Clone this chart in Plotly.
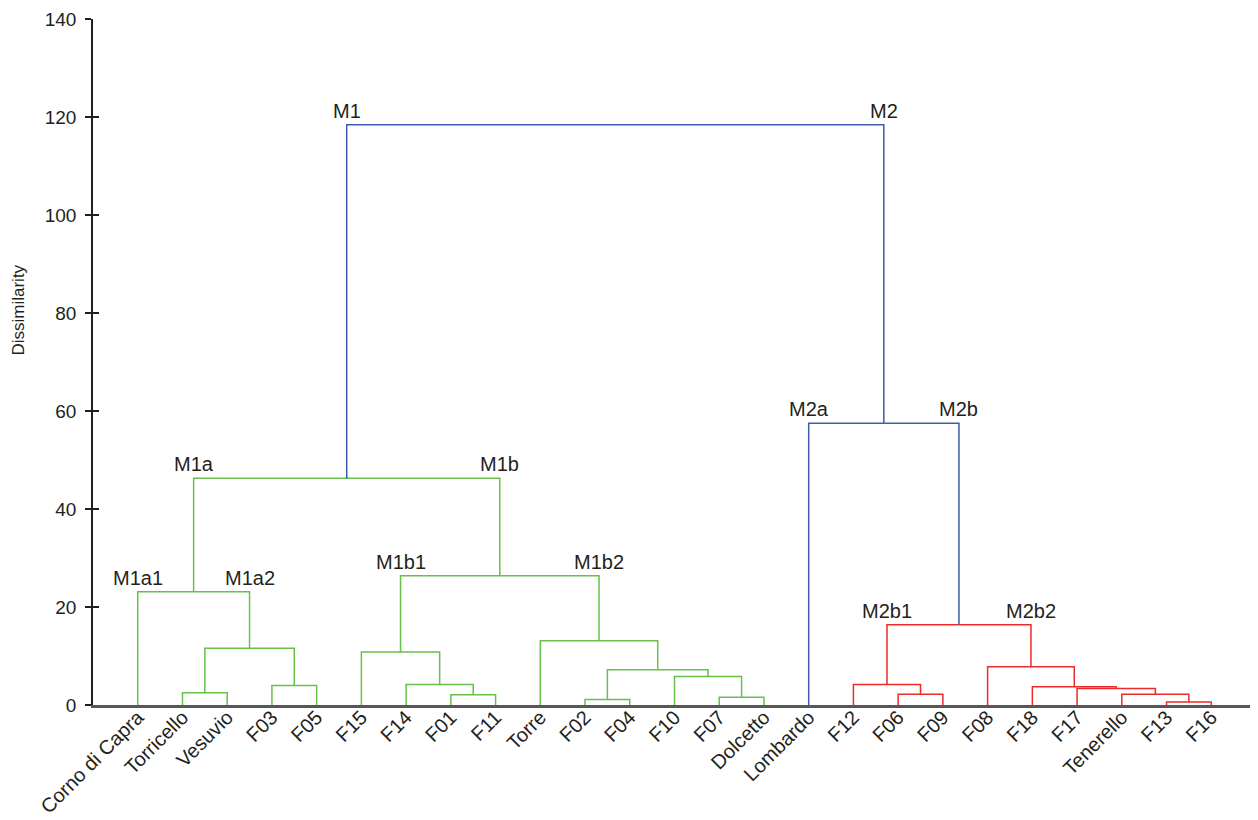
import plotly.graph_objects as go

# ---- data -------------------------------------------------------------
leaves = ["Corno di Capra", "Torricello", "Vesuvio", "F03", "F05", "F15", "F14",
          "F01", "F11", "Torre", "F02", "F04", "F10", "F07", "Dolcetto",
          "Lombardo", "F12", "F06", "F09", "F08", "F18", "F17", "Tenerello",
          "F13", "F16"]

# merges (agglomeration order): name, left child, right child, height, group
merge_names = ["TV", "F03F05", "M1a2", "M1a", "F01F11", "F14c", "M1b1",
               "F02F04", "F07D", "F10c", "F02c", "M1b2", "M1b", "M1",
               "F06F09", "M2b1", "F13F16", "Tc", "F17c", "F18c", "M2b2",
               "M2b", "M2", "ROOT"]
merge_left = ["Torricello", "F03", "TV", "Corno di Capra", "F01", "F14", "F15",
              "F02", "F07", "F10", "F02F04", "Torre", "M1b1", "M1a",
              "F06", "F12", "F13", "Tenerello", "F17", "F18", "F08",
              "M2b1", "Lombardo", "M1"]
merge_right = ["Vesuvio", "F05", "F03F05", "M1a2", "F11", "F01F11", "F14c",
               "F04", "Dolcetto", "F07D", "F10c", "F02c", "M1b2", "M1b",
               "F09", "F06F09", "F16", "F13F16", "Tc", "F17c", "F18c",
               "M2b2", "M2b", "M2"]
merge_height = [2.5, 4.0, 11.6, 23.1, 2.1, 4.2, 10.8,
                1.1, 1.6, 5.8, 7.2, 13.1, 26.4, 46.3,
                2.2, 4.2, 0.6, 2.2, 3.35, 3.7, 7.8,
                16.4, 57.5, 118.4]
merge_group = ["M1"] * 14 + ["M2b"] * 8 + ["top", "top"]

# cluster labels: shown above the child node, at its parent's height
label_nodes = ["M1", "M2", "M1a", "M1b", "Corno di Capra", "M1a2", "M1b1",
               "M1b2", "Lombardo", "M2b", "M2b1", "M2b2"]
label_texts = ["M1", "M2", "M1a", "M1b", "M1a1", "M1a2", "M1b1", "M1b2",
               "M2a", "M2b", "M2b1", "M2b2"]

y_ticks = [0, 20, 40, 60, 80, 100, 120, 140]

# ---- styles -----------------------------------------------------------
group_colors = {"M1": "#66c04a", "M2b": "#ee2a2a", "top": "#3d5cad"}
FONT = "Liberation Sans, Arial, sans-serif"
TXT = "#231f20"

# ---- layout of the tree ----------------------------------------------
pos = {name: i + 1 for i, name in enumerate(leaves)}
hgt = {name: 0.0 for name in leaves}
parent = {}
segs = {g: ([], []) for g in group_colors}
for name, l, r, h, g in zip(merge_names, merge_left, merge_right,
                            merge_height, merge_group):
    pos[name] = (pos[l] + pos[r]) / 2
    hgt[name] = h
    parent[l] = name
    parent[r] = name
    xs, ys = segs[g]
    xs += [pos[l], pos[l], pos[r], pos[r], None]
    ys += [hgt[l], h, h, hgt[r], None]

fig = go.Figure()
for g, (xs, ys) in segs.items():
    fig.add_trace(go.Scatter(x=xs, y=ys, mode="lines",
                             line=dict(color=group_colors[g], width=1.5),
                             hoverinfo="skip", showlegend=False,
                             yaxis="y2" if g == "top" else "y"))

for node, txt in zip(label_nodes, label_texts):
    fig.add_annotation(x=pos[node], y=hgt[parent[node]], text=txt,
                       showarrow=False, xanchor="center", yanchor="bottom",
                       yshift=1, font=dict(family=FONT, size=20, color=TXT))

fig.add_annotation(xref="paper", yref="paper", x=0, y=0.575, xshift=-74,
                   text="Dissimilarity", textangle=-90, showarrow=False,
                   xanchor="center", yanchor="middle",
                   font=dict(family=FONT, size=17, color=TXT))

# page body has an 8px margin: paper spans 8..1258 x 8..820
fig.update_layout(
    width=1250, height=812,
    margin=dict(l=85, r=2, t=11, b=115, autoexpand=False),
    plot_bgcolor="white", paper_bgcolor="white",
    font=dict(family=FONT, color=TXT),
    xaxis=dict(range=[0, 26], tickvals=list(range(1, len(leaves) + 1)),
               ticktext=leaves, tickangle=-45, ticks="", automargin=False,
               tickfont=dict(size=20, color=TXT), ticklabelstandoff=-10,
               showline=True, linecolor="#575757", linewidth=2.5,
               showgrid=False, zeroline=False),
    yaxis=dict(range=[0, 140], tickvals=y_ticks, ticks="outside", ticklen=6,
               tickwidth=1.5, tickcolor="#231f20", automargin=False,
               tickfont=dict(size=19, color=TXT), ticklabelstandoff=5,
               showline=True, linecolor="#231f20", linewidth=1.5,
               showgrid=False, zeroline=False),
    yaxis2=dict(range=[0, 140], overlaying="y", side="left",
                tickvals=y_ticks, ticks="inside", ticklen=6, tickwidth=1.5,
                tickcolor="#231f20", showticklabels=False, showline=False,
                showgrid=False, zeroline=False, automargin=False),
)

fig.write_html("out.html")
